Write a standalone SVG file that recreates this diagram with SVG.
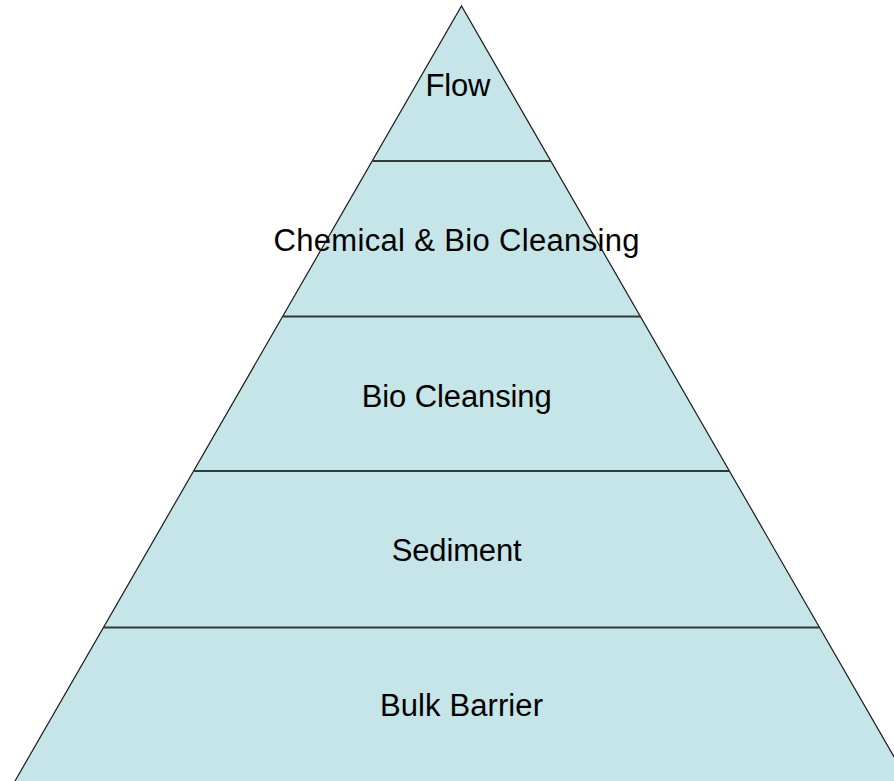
<svg xmlns="http://www.w3.org/2000/svg" width="894" height="781" viewBox="0 0 894 781">
<style>
.tier{fill:#c6e5e8;stroke:none}
.edge{fill:none;stroke:#1a1a1a;stroke-width:1.2}
.div{stroke:#2f3b3b;stroke-width:2}
.lbl{font-family:"Liberation Sans",Arial,sans-serif;font-size:31px;fill:#000;text-anchor:middle}
</style>
<rect width="894" height="781" fill="#fff"/>
<g id="tier-flow">
<polygon class="tier" points="461.5,6 550.8,161 372.2,161"/>
<text class="lbl" x="458" y="96" textLength="65" lengthAdjust="spacing">Flow</text>
</g>
<g id="tier-chemical">
<polygon class="tier" points="372.2,161 550.8,161 640.7,316.5 282.3,316.5"/>
<text class="lbl" x="456.5" y="250.5" textLength="366" lengthAdjust="spacing">Chemical &amp; Bio Cleansing</text>
</g>
<g id="tier-bio">
<polygon class="tier" points="282.3,316.5 640.7,316.5 729.4,471 193.6,471"/>
<text class="lbl" x="456.7" y="406.5" textLength="190" lengthAdjust="spacing">Bio Cleansing</text>
</g>
<g id="tier-sediment">
<polygon class="tier" points="193.6,471 729.4,471 819.6,627.5 103.4,627.5"/>
<text class="lbl" x="456.7" y="560.5" textLength="130" lengthAdjust="spacing">Sediment</text>
</g>
<g id="tier-bulk">
<polygon class="tier" points="103.4,627.5 819.6,627.5 908,781 15,781"/>
<text class="lbl" x="461.5" y="716" textLength="163" lengthAdjust="spacing">Bulk Barrier</text>
</g>
<g id="connectors">
<polyline class="edge" points="15,781 461.5,6 908,781"/>
<line class="div" x1="372.2" y1="161" x2="550.8" y2="161"/>
<line class="div" x1="282.3" y1="316.5" x2="640.7" y2="316.5"/>
<line class="div" x1="193.6" y1="471" x2="729.4" y2="471"/>
<line class="div" x1="103.4" y1="627.5" x2="819.6" y2="627.5"/>
</g>
</svg>
